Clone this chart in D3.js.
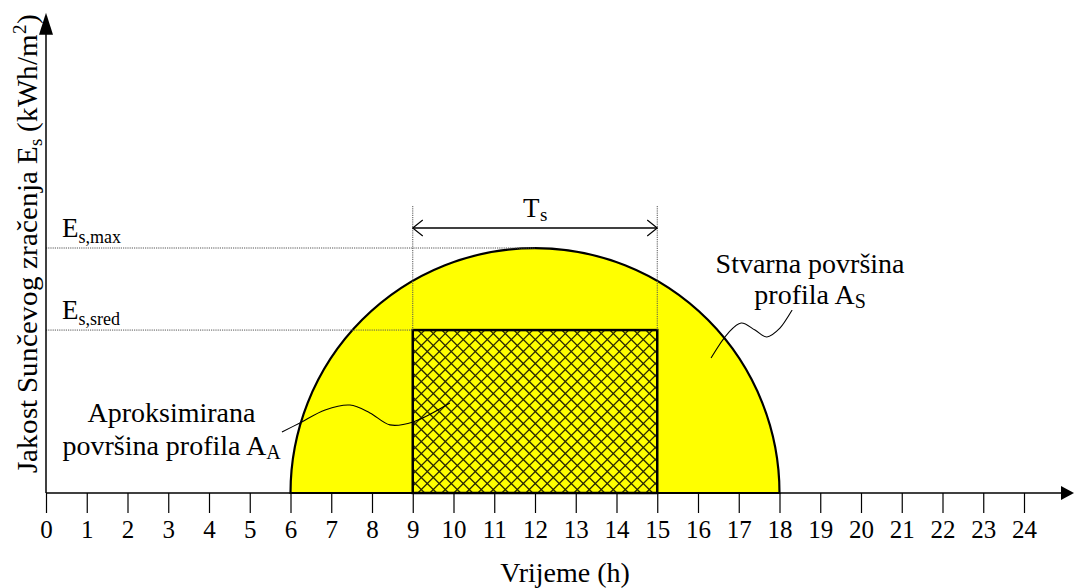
<!DOCTYPE html>
<html>
<head>
<meta charset="utf-8">
<script src="https://cdn.jsdelivr.net/npm/d3@7"></script>
<style>
  @font-face { font-family: "LSerif"; src: local("Liberation Serif"), local("LiberationSerif"), local("LiberationSerif-Regular"); }
  html, body { margin: 0; padding: 0; background: #fff; }
</style>
</head>
<body>
<div id="chart"></div>
<script>
// hours on the x axis
var hourTicks = [0, 1, 2, 3, 4, 5, 6, 7, 8, 9, 10, 11, 12, 13, 14, 15, 16, 17, 18, 19, 20, 21, 22, 23, 24];
// real profile: sunrise, noon, sunset
var profileHours = [6, 12, 18];
// approximated profile: start and end of T_s
var rectHours = [9, 15];
// irradiance levels (relative)
var levelNames = ["s,max", "s,sred"];
var levelValues = [1.0, 0.665];
var yAxisTop = 1.96;
// callout wiggles [hour, level]
var calloutReal = [[16.32, 0.551], [16.74, 0.653], [17.06, 0.694], [17.40, 0.665], [17.69, 0.637], [18.01, 0.673], [18.31, 0.747]];
var calloutApprox = [[5.79, 0.249], [6.23, 0.286], [6.85, 0.339], [7.46, 0.359], [7.95, 0.327], [8.44, 0.278], [9.01, 0.290], [9.91, 0.367]];

var svg = d3.select("#chart").append("svg")
    .attr("width", 1074).attr("height", 588);

var x = d3.scaleLinear().domain([0, 24]).range([46, 1024]);
var y = d3.scaleLinear().domain([0, 1]).range([493, 248]);

function label(px, py, size, anchor, fam) {
    var t = svg.append("text")
        .attr("x", px).attr("y", py)
        .style("font-family", fam)
        .style("font-size", size + "px");
    if (anchor) t.attr("text-anchor", anchor);
    return t;
}

// real profile, half ellipse
var rx = (x(profileHours[2]) - x(profileHours[0])) / 2;
var ry = y(0) - y(levelValues[0]);
svg.append("path")
    .attr("d", "M" + x(profileHours[0]) + "," + y(0) +
        "A" + rx + "," + ry + " 0 0 1 " + x(profileHours[2]) + "," + y(0) + "Z")
    .attr("fill", "#ffff00")
    .attr("stroke", "#000")
    .attr("stroke-width", 2.2);

// approximated rectangle with cross hatch
var rx0 = x(rectHours[0]), rx1 = x(rectHours[1]);
var ry0 = y(levelValues[1]), ry1 = y(0);
var rh = ry1 - ry0;
svg.append("clipPath").attr("id", "rclip")
    .append("rect")
    .attr("x", rx0).attr("y", ry0)
    .attr("width", rx1 - rx0).attr("height", rh);
var hatch = svg.append("g").attr("clip-path", "url(#rclip)");
d3.range(rx0 - rh, rx1 + 12, 12).forEach(function (k) {
    hatch.append("line")
        .attr("x1", k).attr("y1", ry1).attr("x2", k + rh).attr("y2", ry0)
        .attr("stroke", "#2a2a00").attr("stroke-width", 1.3);
    hatch.append("line")
        .attr("x1", k).attr("y1", ry0).attr("x2", k + rh).attr("y2", ry1)
        .attr("stroke", "#2a2a00").attr("stroke-width", 1.3);
});
svg.append("rect")
    .attr("x", rx0).attr("y", ry0)
    .attr("width", rx1 - rx0).attr("height", rh)
    .attr("fill", "none")
    .attr("stroke", "#000")
    .attr("stroke-width", 2.5);

// dotted guide lines
var dotted = "1.2,1";
svg.append("line")
    .attr("x1", x(0)).attr("x2", x(profileHours[1]))
    .attr("y1", y(levelValues[0])).attr("y2", y(levelValues[0]))
    .attr("stroke", "#555").attr("stroke-width", 1).attr("stroke-dasharray", dotted);
svg.append("line")
    .attr("x1", x(0)).attr("x2", x(rectHours[0]))
    .attr("y1", y(levelValues[1])).attr("y2", y(levelValues[1]))
    .attr("stroke", "#555").attr("stroke-width", 1).attr("stroke-dasharray", dotted);
rectHours.forEach(function (h) {
    svg.append("line")
        .attr("x1", x(h)).attr("x2", x(h))
        .attr("y1", 206).attr("y2", y(levelValues[1]))
        .attr("stroke", "#555").attr("stroke-width", 1).attr("stroke-dasharray", dotted);
});

// T_s dimension arrow
var ya = 228;
svg.append("line")
    .attr("x1", rx0).attr("x2", rx1)
    .attr("y1", ya).attr("y2", ya)
    .attr("stroke", "#000").attr("stroke-width", 1.3);
svg.append("path")
    .attr("d", "M" + (rx0 + 10) + "," + (ya - 8) + "L" + rx0 + "," + ya + "L" + (rx0 + 10) + "," + (ya + 8) +
        "M" + (rx1 - 10) + "," + (ya - 8) + "L" + rx1 + "," + ya + "L" + (rx1 - 10) + "," + (ya + 8))
    .attr("fill", "none").attr("stroke", "#000").attr("stroke-width", 1.2);

// callouts
var wave = d3.line()
    .x(function (d) { return x(d[0]); })
    .y(function (d) { return y(d[1]); })
    .curve(d3.curveCatmullRom);
[calloutReal, calloutApprox].forEach(function (c) {
    svg.append("path")
        .attr("d", wave(c))
        .attr("fill", "none")
        .attr("stroke", "#000")
        .attr("stroke-width", 1.1);
});

// x axis
var xAxis = d3.axisBottom(x)
    .tickValues(hourTicks)
    .tickFormat(d3.format("d"))
    .tickSize(20)
    .tickPadding(7);
var gx = svg.append("g")
    .attr("transform", "translate(0," + y(0) + ")")
    .call(xAxis);
gx.select(".domain").remove();
gx.selectAll(".tick line").attr("stroke", "#000").attr("stroke-width", 1.2);
gx.selectAll(".tick text")
    .style("font-family", "Liberation Serif")
    .style("font-size", "25px");
svg.append("line")
    .attr("x1", x(0)).attr("x2", 1064)
    .attr("y1", y(0)).attr("y2", y(0))
    .attr("stroke", "#000").attr("stroke-width", 1.5);
svg.append("path")
    .attr("d", "M1074," + y(0) + "L1061," + (y(0) - 7) + "L1061," + (y(0) + 7) + "Z")
    .attr("fill", "#000");

// y axis
svg.append("line")
    .attr("x1", x(0)).attr("x2", x(0))
    .attr("y1", y(0)).attr("y2", y(yAxisTop) + 10)
    .attr("stroke", "#000").attr("stroke-width", 1.5);
svg.append("path")
    .attr("d", "M" + x(0) + "," + y(yAxisTop) + "L" + (x(0) - 7) + "," + (y(yAxisTop) + 22) + "L" + (x(0) + 7) + "," + (y(yAxisTop) + 22) + "Z")
    .attr("fill", "#000");

// texts
levelNames.forEach(function (n, i) {
    var t = label(62, y(levelValues[i]) - 11, 27, null, "serif");
    t.append("tspan").text("E");
    t.append("tspan").attr("dy", 6).style("font-size", "18px").text(n);
});

var ts = label(x(profileHours[1]), 217, 27, "middle", "LSerif");
ts.append("tspan").text("T");
ts.append("tspan").attr("dy", 4).style("font-size", "19px").text("s");

label(x(18.75), 273, 28, "middle", "'Liberation Serif'").text("Stvarna površina");
var lr = label(x(18.75), 304, 28, "middle", "'Liberation Serif'");
lr.append("tspan").text("profila A");
lr.append("tspan").attr("dy", 4).style("font-size", "20px").text("S");

label(x(3.08), 422, 28, "middle", "Tinos").text("Aproksimirana");
var la = label(x(3.08), 455, 28, "middle", "Tinos");
la.append("tspan").text("površina profila A");
la.append("tspan").attr("dy", 4).style("font-size", "20px").text("A");

label(565, 582, 28, "middle", "'Times New Roman'").text("Vrijeme (h)");

var yt = label(0, 0, 29, null, "LSerif")
    .attr("transform", "translate(37,473) rotate(-90)");
yt.append("tspan").text("Jakost Sunčevog zračenja E");
yt.append("tspan").attr("dy", 5).style("font-size", "19px").text("s");
yt.append("tspan").attr("dy", -5).text(" (kWh/m");
yt.append("tspan").attr("dy", -11).style("font-size", "19px").text("2");
yt.append("tspan").attr("dy", 11).text(")");
</script>
</body>
</html>
